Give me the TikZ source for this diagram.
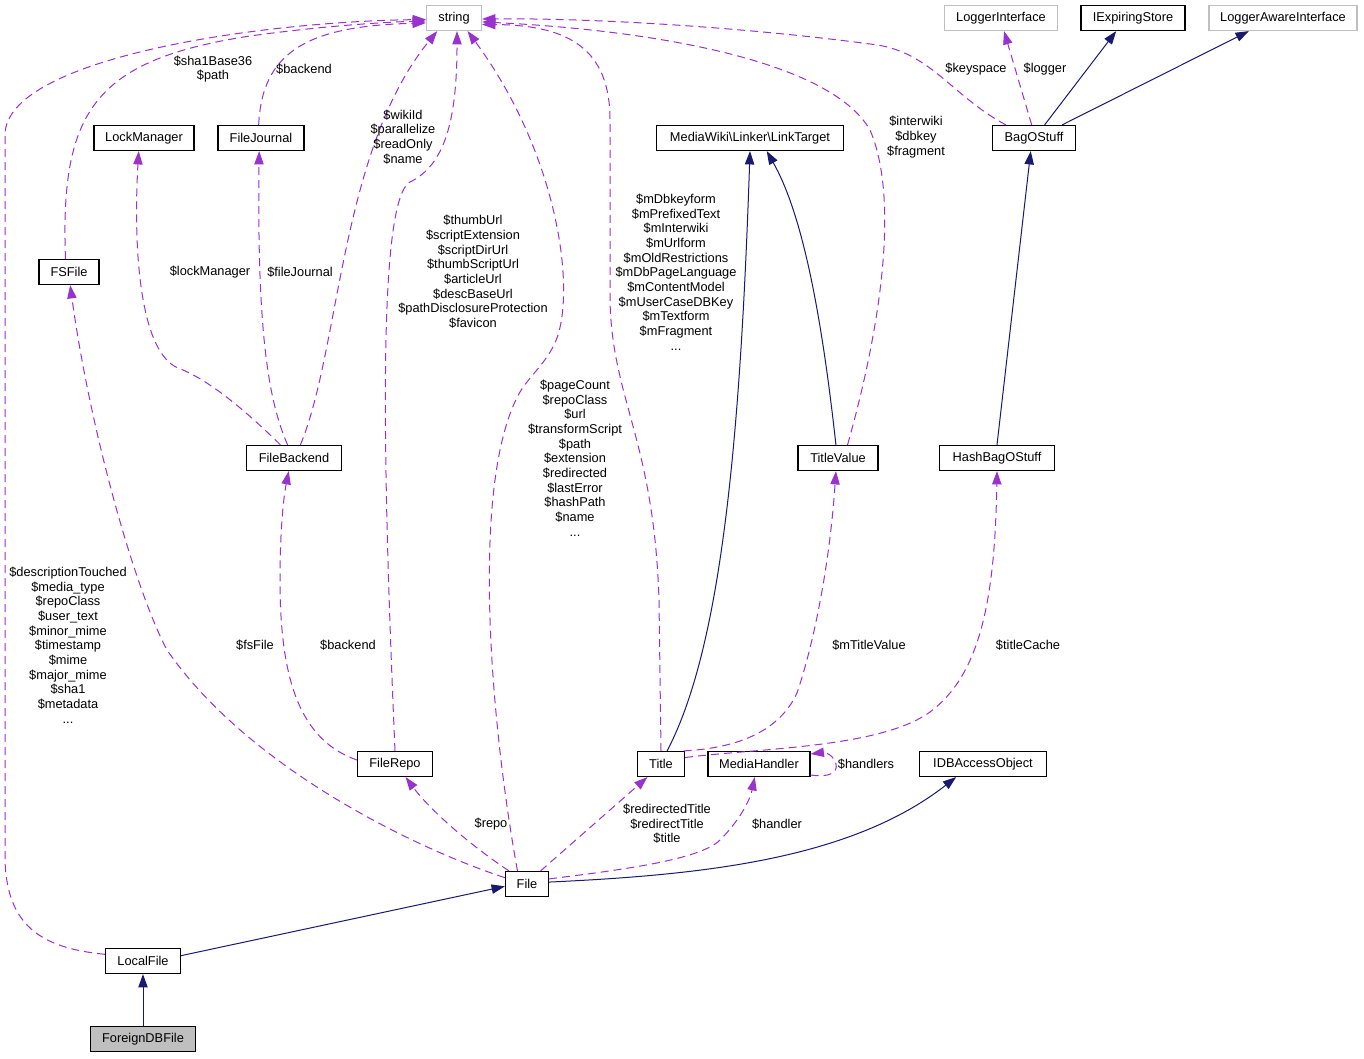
\documentclass[tikz,border=0pt]{standalone}
\usepackage{fontspec}
\setmainfont{Liberation Sans}
\usetikzlibrary{arrows.meta}
\usetikzlibrary{calc}
\definecolor{edgepurple}{HTML}{9A32CD}
\definecolor{edgenavy}{HTML}{191970}
\definecolor{boxgray}{HTML}{BFBFBF}

\begin{document}
\begin{tikzpicture}[x=0.75pt,y=-0.75pt,>/.tip={Triangle[length=10pt,width=7pt]},
	font=\fontsize{9.6}{11}\selectfont,
	cls/.style={shape=rectangle,draw,line width=0.9pt,fill=white,minimum height=18.75pt,inner sep=0pt},
	ext/.style={cls,draw=boxgray},
	member/.style={->,edgepurple,line width=0.75pt,dash pattern=on 6pt off 3.75pt},
	base/.style={->,edgenavy,line width=0.75pt},
	lbl/.style={align=center,inner sep=0pt}]
	\path[fill=white] (0,0) rectangle (1364,1059);
	\useasboundingbox (0,0) rectangle (1364,1059);
	\draw (454,18) node (string) [ext,minimum width=41.25pt] {string};
	\draw (1001,18) node (LoggerInterface) [ext,minimum width=84.75pt] {LoggerInterface};
	\draw (1133,18) node (IExpiringStore) [cls,minimum width=78pt] {IExpiringStore};
	\draw (1283,18) node (LoggerAwareInterface) [ext,minimum width=111pt] {LoggerAwareInterface};
	\draw (144,138) node (LockManager) [cls,minimum width=75pt] {LockManager};
	\draw (261,138) node (FileJournal) [cls,minimum width=64.5pt] {FileJournal};
	\draw (750,138) node (LinkTarget) [cls,minimum width=140.25pt] {MediaWiki\textbackslash{}Linker\textbackslash{}LinkTarget};
	\draw (1034,138) node (BagOStuff) [cls,minimum width=62.25pt] {BagOStuff};
	\draw (69,272) node (FSFile) [cls,minimum width=45pt] {FSFile};
	\draw (294,458) node (FileBackend) [cls,minimum width=71.25pt] {FileBackend};
	\draw (838,458) node (TitleValue) [cls,minimum width=60pt] {TitleValue};
	\draw (997,458) node (HashBagOStuff) [cls,minimum width=86.25pt] {HashBagOStuff};
	\draw (395,764) node (FileRepo) [cls,minimum width=56.25pt] {FileRepo};
	\draw (661,764) node (Title) [cls,minimum width=35.25pt] {Title};
	\draw (759,764) node (MediaHandler) [cls,minimum width=76.5pt] {MediaHandler};
	\draw (983,764) node (IDBAccessObject) [cls,minimum width=95.25pt] {IDBAccessObject};
	\draw (527,884) node (File) [cls,minimum width=32.25pt] {File};
	\draw (143,961) node (LocalFile) [cls,minimum width=56.25pt] {LocalFile};
	\draw (143,1039) node (ForeignDBFile) [cls,fill=boxgray,minimum width=78.75pt] {ForeignDBFile};

	\draw[member] (LocalFile.170) .. controls (40,948) and (7,925) .. (5,860) -- (5,135) .. controls (5,60) and (250,22) .. (string.183);
	\draw[member] (FSFile.105) .. controls (60,110) and (95,60) .. (250,36) .. controls (330,25) and (390,22) .. (string.186);
	\draw[member] (FileJournal.100) .. controls (262,50) and (310,26) .. (string.190);
	\draw[member] (FileBackend.64) .. controls (340,350) and (340,150) .. (string.218);
	\draw[member] (FileRepo.north) .. controls (382,450) and (378,200) .. (410,182) .. controls (445,165) and (457,120) .. (string.283);
	\draw[member] (File.126) .. controls (490,720) and (470,480) .. (520,392) .. controls (530,375) and (550,360) .. (558,335) .. controls (575,280) and (555,150) .. (string.316);
	\draw[member] (Title.north) -- (659,600) .. controls (654,440) and (612,400) .. (610,300) -- (610,120) .. controls (610,50) and (570,25) .. (string.347);
	\draw[member] (TitleValue.54) .. controls (880,330) and (900,200) .. (870,130) .. controls (830,60) and (650,30) .. (string.352);
	\draw[member] (BagOStuff.155) .. controls (950,95) and (930,50) .. (870,44) .. controls (750,28) and (600,18) .. (string.358);
	\draw[member] (BagOStuff.100) -- (LoggerInterface.283);
	\draw[base] (BagOStuff.51) -- (IExpiringStore.218);
	\draw[base] (BagOStuff.25) -- (LoggerAwareInterface.201);
	\draw[base] (HashBagOStuff.north) -- (BagOStuff.256);
	\draw[member] (FileBackend.136) .. controls (240,405) and (205,378) .. (178,368) .. controls (140,352) and (133,250) .. (LockManager.248);
	\draw[member] (FileBackend.116) .. controls (268,400) and (257,330) .. (FileJournal.262);
	\draw[member] (FileRepo.174) .. controls (300,740) and (280,680) .. (280,580) .. controls (280,520) and (285,490) .. (FileBackend.248);
	\draw[member] (File.164) .. controls (420,850) and (250,770) .. (167,650) .. controls (135,590) and (90,430) .. (FSFile.275);
	\draw[member] (File.144) .. controls (470,845) and (430,810) .. (FileRepo.309);
	\draw[member] (File.44) -- (Title.224);
	\draw[member] (File.13) .. controls (620,870) and (700,860) .. (720,840) .. controls (740,820) and (750,800) .. (MediaHandler.252);
	\draw[base] (File.5) .. controls (700,875) and (850,860) .. (IDBAccessObject.206);
	\draw[base] (LocalFile.8) -- (File.186);
	\draw[base] (ForeignDBFile) -- (LocalFile);
	\draw[base] (Title.65) .. controls (720,650) and (740,450) .. (LinkTarget.south);
	\draw[base] (TitleValue.99) .. controls (820,300) and (800,210) .. (LinkTarget.322);
	\draw[member] (Title.30) .. controls (740,748) and (780,730) .. (797,693) .. controls (815,640) and (830,560) .. (TitleValue.261);
	\draw[member] (Title.15) .. controls (760,748) and (880,748) .. (930,712) .. controls (980,675) and (995,600) .. (HashBagOStuff.south);
	\draw[member] (MediaHandler.348) .. controls (830,778) and (838,772) .. (836,764) .. controls (834,756) and (826,752) .. (MediaHandler.11);

	\draw (68,645) node (lblLocal) [lbl] {\$descriptionTouched\\\$media\_type\\\$repoClass\\\$user\_text\\\$minor\_mime\\\$timestamp\\\$mime\\\$major\_mime\\\$sha1\\\$metadata\\...};
	\draw (213,69) node (lblFS) [lbl] {\$sha1Base36\\\$path};
	\draw (304,69) node (lblJournal) [lbl] {\$backend};
	\draw (403,137) node (lblBackend) [lbl] {\$wikiId\\\$parallelize\\\$readOnly\\\$name};
	\draw (473,272) node (lblRepo) [lbl] {\$thumbUrl\\\$scriptExtension\\\$scriptDirUrl\\\$thumbScriptUrl\\\$articleUrl\\\$descBaseUrl\\\$pathDisclosureProtection\\\$favicon};
	\draw (575,458) node (lblFile) [lbl] {\$pageCount\\\$repoClass\\\$url\\\$transformScript\\\$path\\\$extension\\\$redirected\\\$lastError\\\$hashPath\\\$name\\...};
	\draw (676,272) node (lblTitle) [lbl] {\$mDbkeyform\\\$mPrefixedText\\\$mInterwiki\\\$mUrlform\\\$mOldRestrictions\\\$mDbPageLanguage\\\$mContentModel\\\$mUserCaseDBKey\\\$mTextform\\\$mFragment\\...};
	\draw (916,137) node (lblTitleValue) [lbl] {\$interwiki\\\$dbkey\\\$fragment};
	\draw (976,69) node (lblKeyspace) [lbl] {\$keyspace};
	\draw (1045,69) node (lblLogger) [lbl] {\$logger};
	\draw (210,272) node (lblLock) [lbl] {\$lockManager};
	\draw (300,272) node (lblFileJournal) [lbl] {\$fileJournal};
	\draw (255,645) node (lblFsFile) [lbl] {\$fsFile};
	\draw (348,645) node (lblRepoBackend) [lbl] {\$backend};
	\draw (869,645) node (lblTitleVal) [lbl] {\$mTitleValue};
	\draw (1028,645) node (lblCache) [lbl] {\$titleCache};
	\draw (491,824) node (lblRepoOf) [lbl] {\$repo};
	\draw (667,824) node (lblTitleOf) [lbl] {\$redirectedTitle\\\$redirectTitle\\\$title};
	\draw (777,824) node (lblHandler) [lbl] {\$handler};
	\draw (866,764) node (lblHandlers) [lbl] {\$handlers};
\end{tikzpicture}
\end{document}
